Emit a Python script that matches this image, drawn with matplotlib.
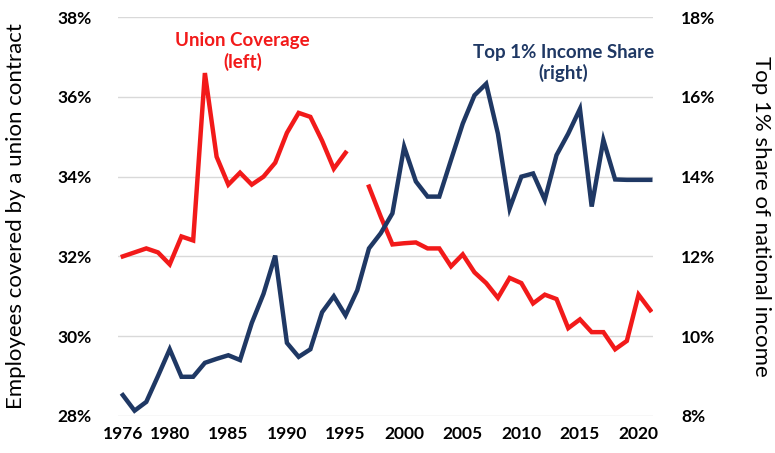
import numpy as np
import matplotlib.pyplot as plt
from matplotlib.ticker import FuncFormatter

plt.rcParams["font.family"] = ["Lato", "DejaVu Sans"]

years = np.arange(1976, 2022)

# union coverage, % (left axis); 1996 missing
union = [32.0, 32.1, 32.2, 32.1, 31.8, 32.5, 32.4, 36.6, 34.5, 33.8,
         34.1, 33.8, 34.0, 34.35, 35.1, 35.6, 35.5, 34.9, 34.2, 34.6,
         np.nan, 33.75, 33.0, 32.3, 32.33, 32.35, 32.2, 32.2, 31.75, 32.05,
         31.6, 31.33, 30.96, 31.46, 31.33, 30.82, 31.04, 30.93, 30.2, 30.42,
         30.1, 30.1, 29.67, 29.88, 31.04, 30.65]

# top 1% income share, % (right axis)
top1 = [8.52, 8.13, 8.35, 9.0, 9.67, 8.98, 8.98, 9.33, 9.43, 9.52,
        9.4, 10.33, 11.06, 12.02, 9.83, 9.48, 9.67, 10.6, 11.0, 10.52,
        11.15, 12.2, 12.58, 13.08, 14.75, 13.88, 13.5, 13.5, 14.42, 15.33,
        16.04, 16.33, 15.08, 13.2, 14.0, 14.08, 13.42, 14.54, 15.08, 15.7,
        13.25, 14.92, 13.93, 13.92, 13.92, 13.92]

red = "#F21A1A"
navy = "#1F3864"

fig = plt.figure(figsize=(7.75, 4.53), dpi=100)
ax = fig.add_axes([0.152, 0.082, 0.691, 0.88])
ax2 = ax.twinx()

ax.plot(years, union, color=red, lw=3.2, solid_joinstyle="miter")
ax2.plot(years, top1, color=navy, lw=3.2, solid_joinstyle="miter")

ax.set_xlim(1975.57, 2021.26)
ax.set_ylim(28, 38)
ax2.set_ylim(8, 18)
ax.set_yticks(np.arange(28, 39, 2))
ax2.set_yticks(np.arange(8, 19, 2))
ax.set_xticks([1976, 1980, 1985, 1990, 1995, 2000, 2005, 2010, 2015, 2020])

pct = FuncFormatter(lambda v, p: f"{v:.0f}%")
ax.yaxis.set_major_formatter(pct)
ax2.yaxis.set_major_formatter(pct)

ax.grid(axis="y", color="#D9D9D9", lw=1)
ax.set_axisbelow(True)
for a in (ax, ax2):
    for s in a.spines.values():
        s.set_visible(False)
    a.tick_params(length=0, labelsize=12.5)
    for lbl in a.get_xticklabels() + a.get_yticklabels():
        lbl.set_fontweight("bold")
ax.tick_params(axis="y", pad=19)
ax2.tick_params(axis="y", pad=20)
ax.tick_params(axis="x", pad=7)

ax.set_ylabel("Employees covered by a union contract", fontsize=16, labelpad=22)
ax2.set_ylabel("Top 1% share of national income", fontsize=16, rotation=270,
               labelpad=40)

ax.text(1986.2, 37.15, "Union Coverage\n(left)", color=red, fontsize=13.5,
        fontweight="bold", ha="center", va="center", linespacing=1.25)
ax.text(2013.6, 36.85, "Top 1% Income Share\n(right)", color=navy, fontsize=13.5,
        fontweight="bold", ha="center", va="center", linespacing=1.25)

fig.savefig("out.png", dpi=100)
